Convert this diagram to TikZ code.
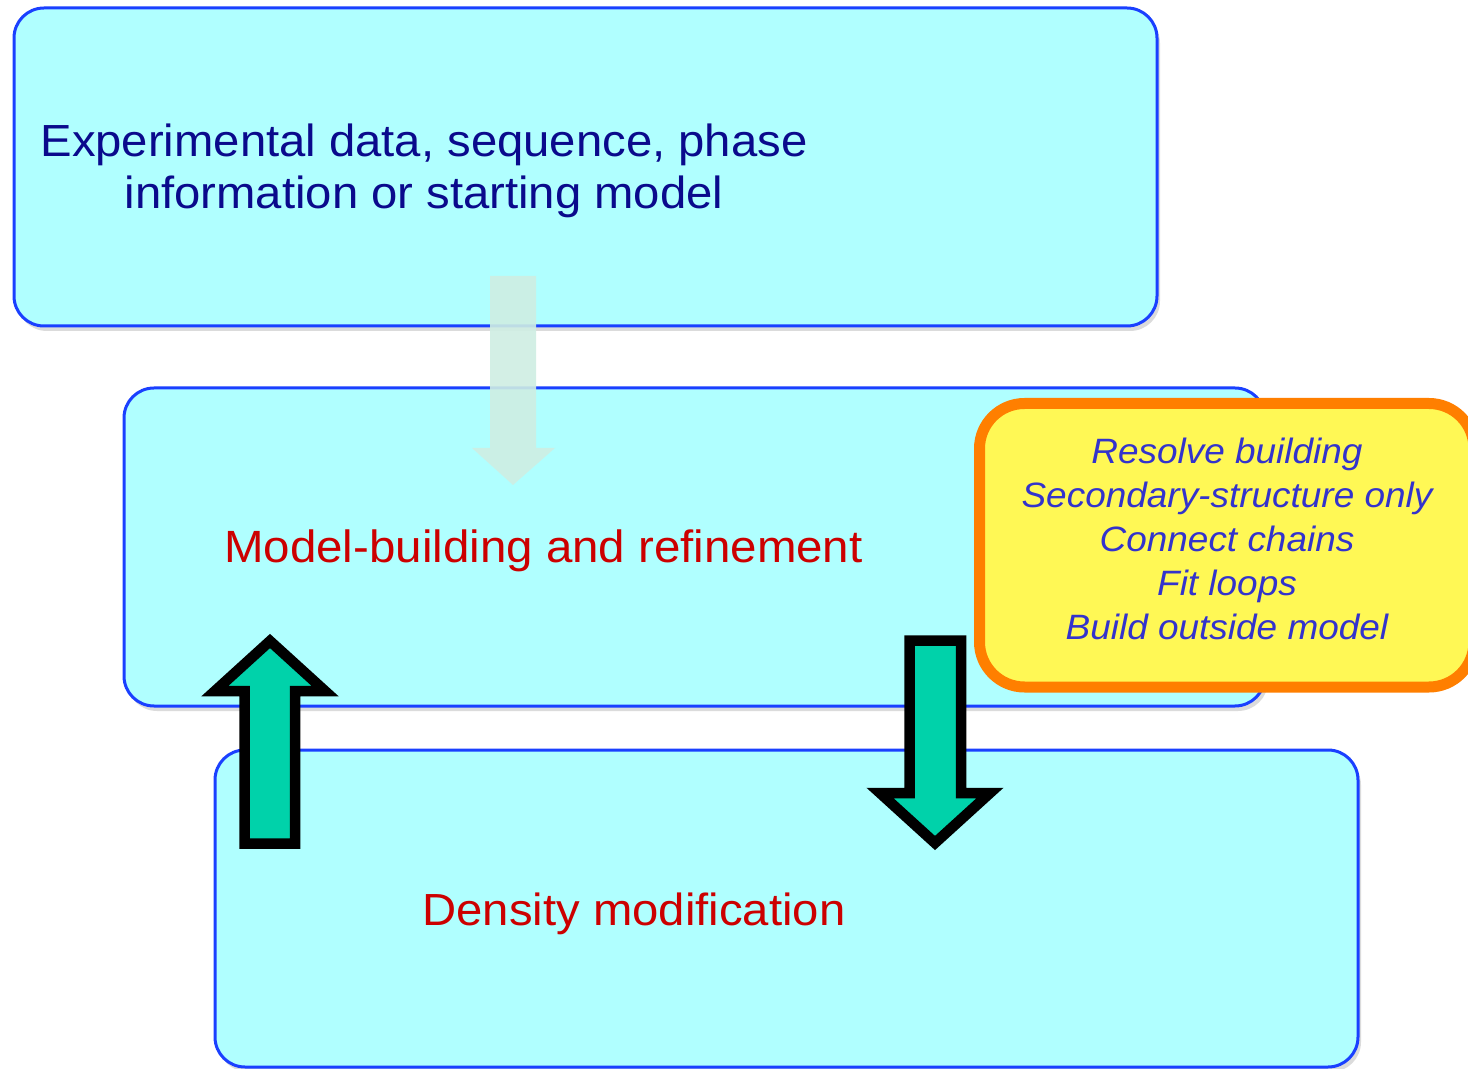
\documentclass[tikz,border=0pt]{standalone}
\usepackage{fontspec}
\setmainfont{Liberation Sans}[FakeStretch=1.05]
\usetikzlibrary{shadows}
\definecolor{boxfill}{HTML}{B0FFFF}
\definecolor{boxblue}{HTML}{1A40FF}
\definecolor{navytext}{HTML}{0A0A8C}
\definecolor{redtext}{HTML}{CC0000}
\definecolor{yellowfill}{HTML}{FFF855}
\definecolor{orangeline}{HTML}{FF7F00}
\definecolor{notetext}{HTML}{3333CC}
\definecolor{teal}{HTML}{00D2AA}
\definecolor{fadearrow}{HTML}{CFEEE3}
\begin{document}
\begin{tikzpicture}[x=0.5pt,y=-0.5pt,
  box/.style={draw=boxblue, line width=1.5pt, fill=boxfill, rounded corners=15pt,
    inner sep=0pt, drop shadow={shadow xshift=1.5pt, shadow yshift=-2.5pt, opacity=0.28}},
  notebox/.style={draw=orangeline, line width=5.5pt, fill=yellowfill, rounded corners=22.5pt, inner sep=0pt},
  bigtext/.style={inner sep=0pt, align=center},
  blockarrow/.style={draw=black, line width=5.25pt, fill=teal, line join=miter, miter limit=10},
  ghostarrow/.style={fill=fadearrow, fill opacity=0.9}]
\clip (0,0) rectangle (1468,1069);
\fill[white] (0,0) rectangle (1468,1069);

% boxes
\node[box, minimum width=571.5pt, minimum height=159pt] (topbox) at (585.5,167) {};
\node[box, minimum width=570.5pt, minimum height=159pt] (midbox) at (694.5,547) {};
\node[box, minimum width=571.5pt, minimum height=158.5pt] (botbox) at (786.5,908.5) {};

% texts
\node[bigtext, anchor=north, text=navytext, font=\fontsize{22.5pt}{26pt}\selectfont] (toptext) at (424,123)
  {Experimental data, sequence, phase\\information or starting model};
\node[bigtext, anchor=base, text=redtext, font=\fontsize{22.6pt}{27pt}\selectfont] (midtext) at (543.5,563)
  {Model-building and refinement};
\node[bigtext, anchor=base, text=redtext, font=\fontsize{22.5pt}{26pt}\selectfont] (bottext) at (634,925)
  {Density modification};

% faded arrow from top box
\fill[ghostarrow] (490,276) -- (536,276) -- (536,448) -- (555,448) -- (513,485) -- (472,448) -- (490,448) -- cycle;

% note box
\node[notebox, minimum width=247.25pt, minimum height=141.75pt] (note) at (1226.75,545.25) {};
\node[bigtext, anchor=north, text=notetext, font=\fontsize{17.6pt}{21.9pt}\selectfont\itshape] (notetext) at (1227,438)
  {Resolve building\\Secondary-structure only\\Connect chains\\Fit loops\\Build outside model};

% up arrow (density modification -> model building)
\draw[blockarrow] (270,641) -- (325,691) -- (295,691) -- (295,843.5) -- (244.5,843.5) -- (244.5,691) -- (215,691) -- cycle;

% down arrow (model building -> density modification)
\draw[blockarrow] (935,843) -- (990,793) -- (961,793) -- (961,640.5) -- (909.5,640.5) -- (909.5,793) -- (880,793) -- cycle;
\end{tikzpicture}
\end{document}
